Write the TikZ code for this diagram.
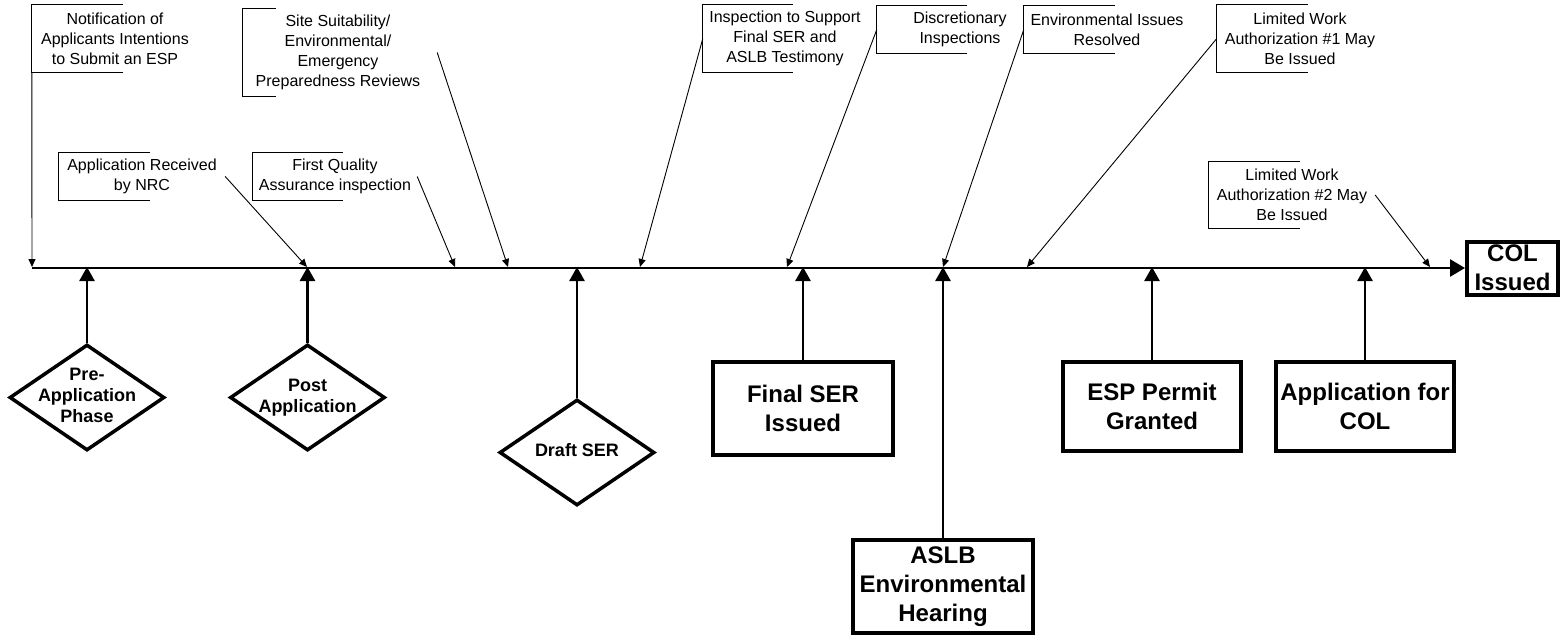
\documentclass[tikz,border=0pt]{standalone}
\usepackage{fontspec}
\setmainfont{Liberation Sans}
\usetikzlibrary{arrows.meta,shapes.geometric}
\newcommand\zw[1]{\makebox[0pt]{\begin{tabular}{@{}c@{}}#1\end{tabular}}}
\begin{document}
\begin{tikzpicture}[x=1pt,y=-1pt,
  callout/.style={inner sep=0pt, minimum width=166pt, minimum height=#1, align=center, font=\fontsize{16}{20}\selectfont},
  bracket/.style={line width=0.9pt},
  callarrow/.style={line width=0.9pt, -{Triangle[length=8pt,width=7pt]}},
  dia/.style={diamond, draw, line width=3.5pt, minimum width=155pt, minimum height=106pt, inner sep=0pt, font=\bfseries\fontsize{18}{21}\selectfont},
  bigbox/.style={rectangle, draw, line width=4pt, inner sep=0pt, align=center, font=\bfseries\fontsize{24}{29}\selectfont},
  uparrow/.style={line width=2.6pt, -{Triangle[length=14pt,width=15pt]}},
  timeline/.style={line width=2.6pt, -{Triangle[length=15pt,width=17pt]}}
]
\useasboundingbox (0,0) rectangle (1568,637);

% end node and timeline
\node[bigbox, minimum width=91pt, minimum height=53pt] (col) at (1512.5,268) {COL\\Issued};
\coordinate (tstart) at (32,268);
\draw[timeline] (tstart) -- (col.west);

% diamonds
\node[dia] (pre) at (87,397.5) {\zw{Pre-\\Application\\Phase}};
\node[dia] (post) at (307.5,397.5) {\zw{Post\\Application}};
\node[dia] (draft) at (577,452.5) {\zw{Draft SER}};

% boxes
\node[bigbox, minimum width=180pt, minimum height=93pt] (final) at (803,408.5) {Final SER\\Issued};
\node[bigbox, minimum width=180pt, minimum height=93pt] (aslb) at (943,586.5) {ASLB\\Environmental\\Hearing};
\node[bigbox, minimum width=178pt, minimum height=89pt] (esp) at (1152,406.5) {ESP Permit\\Granted};
\node[bigbox, minimum width=178pt, minimum height=89pt] (appcol) at (1365,406.5) {Application for\\COL};

% up arrows
\coordinate (u1) at (87,267);
\coordinate (u2) at (307.5,267);
\coordinate (u3) at (577,267);
\coordinate (u4) at (803,267);
\coordinate (u5) at (943,267);
\coordinate (u6) at (1152,267);
\coordinate (u7) at (1365,267);
\draw[uparrow] (pre.north) -- (u1);
\draw[uparrow] (post.north) -- (u2);
\draw[uparrow] (draft.north) -- (u3);
\draw[uparrow] (final.north) -- (u4);
\draw[uparrow] (aslb.north) -- (u5);
\draw[uparrow] (esp.north) -- (u6);
\draw[uparrow] (appcol.north) -- (u7);

% callouts
\node[callout=67pt] (notif) at (115,38.5) {Notification of\\Applicants Intentions\\to Submit an ESP};
\node[callout=87pt, minimum width=190pt] (site) at (338,52.5) {Site Suitability/\\Environmental/\\Emergency\\Preparedness Reviews};
\node[callout=47pt] (recv) at (142,176.5) {Application Received\\by NRC};
\node[callout=47pt, minimum width=164pt] (fqa) at (335,176.5) {First Quality\\Assurance inspection};
\node[callout=67pt, minimum width=164pt] (insp) at (785,38.5) {Inspection to Support\\Final SER and\\ASLB Testimony};
\node[callout=47pt] (disc) at (960,29.5) {Discretionary\\Inspections};
\node[callout=47pt] (env) at (1107,29.5) {Environmental Issues\\Resolved};
\node[callout=67pt] (lw1) at (1300,38.5) {Limited Work\\Authorization \#1 May\\Be Issued};
\node[callout=66pt] (lw2) at (1292,195) {Limited Work\\Authorization \#2 May\\Be Issued};

% brackets
\draw[bracket] ([xshift=91pt]notif.north west) -- (notif.north west) -- (notif.south west) -- ([xshift=91pt]notif.south west);
\draw[bracket] ([xshift=33pt]site.north west) -- (site.north west) -- (site.south west) -- ([xshift=33pt]site.south west);
\draw[bracket] ([xshift=91pt]recv.north west) -- (recv.north west) -- (recv.south west) -- ([xshift=91pt]recv.south west);
\draw[bracket] ([xshift=90pt]fqa.north west) -- (fqa.north west) -- (fqa.south west) -- ([xshift=90pt]fqa.south west);
\draw[bracket] ([xshift=90pt]insp.north west) -- (insp.north west) -- (insp.south west) -- ([xshift=90pt]insp.south west);
\draw[bracket] ([xshift=90pt]disc.north west) -- (disc.north west) -- (disc.south west) -- ([xshift=90pt]disc.south west);
\draw[bracket] ([xshift=91pt]env.north west) -- (env.north west) -- (env.south west) -- ([xshift=91pt]env.south west);
\draw[bracket] ([xshift=91pt]lw1.north west) -- (lw1.north west) -- (lw1.south west) -- ([xshift=91pt]lw1.south west);
\draw[bracket] ([xshift=91pt]lw2.north west) -- (lw2.north west) -- (lw2.south west) -- ([xshift=91pt]lw2.south west);

% callout arrows
\coordinate (c0) at (32,267);
\coordinate (c1) at (307,267);
\coordinate (c2) at (455,267);
\coordinate (c3) at (508,267);
\coordinate (c4) at (640,267);
\coordinate (c5) at (787,267);
\coordinate (c6) at (943,267);
\coordinate (c7) at (1027,267);
\coordinate (c8) at (1430,267);
\draw[callarrow] (notif.south west) -- (c0);
\draw[callarrow] (recv.east) -- (c1);
\draw[callarrow] (fqa.east) -- (c2);
\draw[callarrow] ([xshift=4pt]site.east) -- (c3);
\draw[callarrow] (insp.west) -- (c4);
\draw[callarrow] (disc.west) -- (c5);
\draw[callarrow] (env.west) -- (c6);
\draw[callarrow] (lw1.west) -- (c7);
\draw[callarrow] (lw2.east) -- (c8);
\end{tikzpicture}
\end{document}
